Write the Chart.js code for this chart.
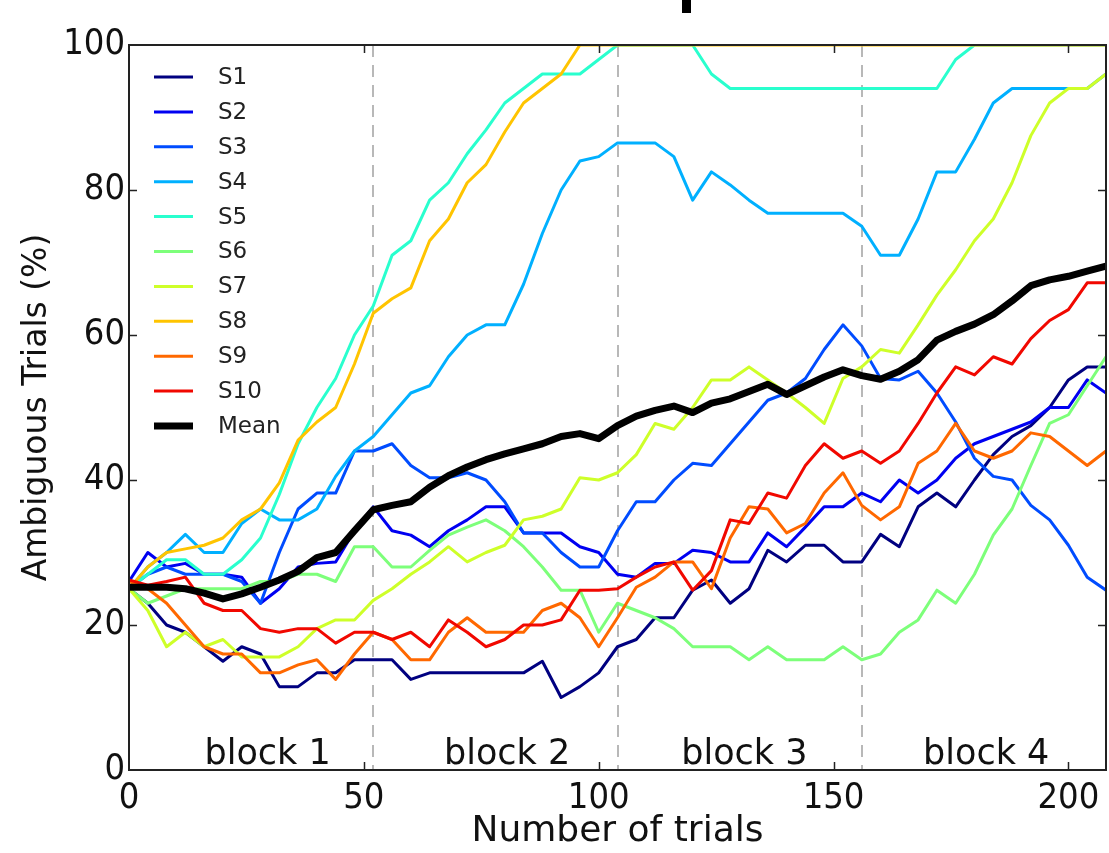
<!DOCTYPE html>
<html>
<head>
<meta charset="utf-8">
<script src="https://cdn.jsdelivr.net/npm/chart.js@4"></script>
<style>
html, body { margin: 0; padding: 0; background: #fff; }
#wrap { width: 1109px; height: 853px; }
</style>
</head>
<body>
<div id="wrap"><canvas id="myChart" width="1109" height="853"></canvas></div>
<script>
// ------------------------------------------------------------
// Data (every 4 trials)
// ------------------------------------------------------------
const trials = [0, 4, 8, 12, 16, 20, 24, 28, 32, 36, 40, 44, 48, 52, 56, 60, 64, 68, 72, 76,
    80, 84, 88, 92, 96, 100, 104, 108, 112, 116, 120, 124, 128, 132, 136, 140, 144, 148, 152, 156,
    160, 164, 168, 172, 176, 180, 184, 188, 192, 196, 200, 204, 208]

const s1 = [25, 23, 20, 19, 17, 15, 17, 16, 11.5, 11.5, 13.4, 13.4, 15.2, 15.2, 15.2, 12.5, 13.4, 13.4, 13.4, 13.4,
    13.4, 13.4, 15, 10, 11.5, 13.4, 17, 18, 21, 21, 24.8, 26.2, 23, 25, 30.3, 28.7, 31, 31, 28.7, 28.7,
    32.5, 30.8, 36.3, 38.2, 36.3, 40, 43.5, 46, 47.5, 50, 53.8, 55.6, 55.6]
const s2 = [26, 30, 28, 28.5, 27, 27, 26.6, 23, 25, 28, 28.5, 28.7, 33, 36.3, 33, 32.4, 30.8, 33, 34.5, 36.3,
    36.3, 32.7, 32.7, 32.7, 30.8, 30, 27, 26.6, 28.5, 28.5, 30.3, 30, 28.7, 28.7, 32.7, 30.8, 33.5, 36.3, 36.3, 38.2,
    37, 40, 38.2, 40, 43, 45, 46, 47, 48, 50, 50, 53.8, 52]
const s3 = [25, 27, 28, 27, 27, 27, 26, 23, 30, 36, 38.2, 38.2, 44, 44, 45, 42, 40.3, 40.3, 41, 40,
    37, 32.7, 32.7, 30, 28, 28, 33, 37, 37, 40, 42.3, 42, 45, 48, 51, 52, 54, 58, 61.4, 58.5,
    54, 53.8, 55, 52, 48, 43, 40.5, 40, 36.5, 34.5, 31, 26.6, 24.8]
const s4 = [25, 28, 30, 32.5, 30, 30, 34, 36, 34.5, 34.5, 36, 40.5, 44, 46, 49, 52, 53, 57, 60, 61.4,
    61.4, 67, 74, 80, 84, 84.6, 86.5, 86.5, 86.5, 84.6, 78.6, 82.5, 80.7, 78.6, 76.8, 76.8, 76.8, 76.8, 76.8, 75,
    71, 71, 76, 82.5, 82.5, 87, 92, 94, 94, 94, 94, 94, 96]
const s5 = [25, 27, 29, 29, 27, 27, 29, 32, 38, 45, 50, 54, 60, 64, 71, 73, 78.6, 81, 85, 88.3,
    92, 94, 96, 96, 96, 98, 100, 100, 100, 100, 100, 96, 94, 94, 94, 94, 94, 94, 94, 94,
    94, 94, 94, 94, 98, 100, 100, 100, 100, 100, 100, 100, 100]
const s6 = [25, 23, 24, 25, 25, 25, 25, 26, 26, 27, 27, 26, 30.8, 30.8, 28, 28, 30.3, 32.4, 33.5, 34.5,
    33, 30.8, 28, 24.8, 24.8, 19, 23, 22, 21, 19.5, 17, 17, 17, 15.2, 17, 15.2, 15.2, 15.2, 17, 15.2,
    16, 19, 20.7, 24.8, 23, 27, 32.4, 36, 42, 47.8, 49, 53, 57]
const s7 = [25, 22, 17, 19, 17, 18, 15.6, 15.6, 15.6, 17, 19.5, 20.7, 20.7, 23.4, 25, 27, 28.7, 30.8, 28.7, 30,
    31, 34.5, 35, 36, 40.3, 40, 41, 43.5, 47.8, 47, 50, 53.8, 53.8, 55.6, 53.8, 52, 50, 47.8, 54, 55.6,
    58, 57.5, 61.4, 65.5, 69, 73, 76, 81, 87.5, 92, 94, 94, 96]
const s8 = [25, 28, 30, 30.5, 31, 32, 34.5, 36, 39.6, 45.5, 48, 50, 56, 63, 65, 66.5, 73, 76, 81, 83.5,
    88, 92, 94, 96, 100, 100, 100, 100, 100, 100, 100, 100, 100, 100, 100, 100, 100, 100, 100, 100,
    100, 100, 100, 100, 100, 100, 100, 100, 100, 100, 100, 100, 100]
const s9 = [26, 25, 23, 20, 17, 16, 16, 13.4, 13.4, 14.5, 15.2, 12.5, 16, 19, 18, 15.2, 15.2, 19, 21, 19,
    19, 19, 22, 23, 21, 17, 21, 25.2, 26.6, 28.7, 28.7, 25, 32, 36.3, 36, 32.7, 34, 38.2, 41, 36.5,
    34.5, 36.3, 42.3, 44, 47.8, 44, 43, 44, 46.5, 46, 44, 42, 44]
const s10 = [26.2, 25.5, 26, 26.6, 23, 22, 22, 19.5, 19, 19.5, 19.5, 17.5, 19, 19, 18, 19, 17, 20.7, 19, 17,
    18, 20, 20, 20.7, 24.8, 24.8, 25, 26.6, 28, 28.7, 24.8, 27.5, 34.5, 34, 38.2, 37.5, 42, 45, 43, 44,
    42.3, 44, 47.8, 52, 55.6, 54.5, 57, 56, 59.5, 62, 63.5, 67.2, 67.2]
const mean = [25.2, 25.2, 25.2, 25, 24.4, 23.6, 24.3, 25.2, 26.2, 27.4, 29.3, 30, 33, 35.9, 36.5, 37, 39, 40.6, 41.8, 42.8,
    43.6, 44.3, 45, 46, 46.4, 45.7, 47.5, 48.8, 49.6, 50.2, 49.3, 50.6, 51.2, 52.2, 53.2, 51.8, 53, 54.2, 55.2, 54.4,
    53.9, 55, 56.6, 59.3, 60.5, 61.5, 62.8, 64.7, 66.8, 67.6, 68.1, 68.8, 69.5]

const seriesNames = ['S1', 'S2', 'S3', 'S4', 'S5', 'S6', 'S7', 'S8', 'S9', 'S10']
const seriesValues = [s1, s2, s3, s4, s5, s6, s7, s8, s9, s10]
const seriesColors = ['#000080', '#0000f1', '#004cff', '#00b0ff', '#29ffce',
    '#7dff7a', '#ceff29', '#ffc400', '#ff6800', '#f10800']

const xTickVals = [0, 50, 100, 150, 200]
const yTickVals = [0, 20, 40, 60, 80, 100]
const blockEdges = [52, 104, 156]
const blockNames = ['block 1', 'block 2', 'block 3', 'block 4']
const blockCenters = [29.5, 80.5, 131, 182.5]

// ------------------------------------------------------------
// Datasets
// ------------------------------------------------------------
const toPoints = (vals) => vals.map((v, i) => ({ x: trials[i], y: v }))

const datasets = seriesValues.map((vals, i) => ({
    label: seriesNames[i],
    data: toPoints(vals),
    borderColor: seriesColors[i],
    backgroundColor: seriesColors[i],
    borderWidth: 3,
    order: 10 - i,
}))
datasets.push({
    label: 'Mean',
    data: toPoints(mean),
    borderColor: '#000000',
    backgroundColor: '#000000',
    borderWidth: 7,
    order: -1,
})

// ------------------------------------------------------------
// Frame, inner ticks, block lines, block labels, legend
// ------------------------------------------------------------
const decor = {
    id: 'decor',
    beforeDatasetsDraw(chart) {
        const { ctx, chartArea: a, scales: { x } } = chart
        ctx.save()
        ctx.strokeStyle = '#b8b8b8'
        ctx.lineWidth = 2
        ctx.setLineDash([12, 8])
        blockEdges.forEach((t) => {
            const px = Math.round(x.getPixelForValue(t))
            ctx.beginPath()
            ctx.moveTo(px, a.top)
            ctx.lineTo(px, a.bottom)
            ctx.stroke()
        })
        ctx.restore()
    },
    afterDraw(chart) {
        const { ctx, chartArea: a, scales: { x, y } } = chart
        ctx.save()

        // frame
        ctx.strokeStyle = '#222'
        ctx.lineWidth = 2
        ctx.strokeRect(a.left, a.top, a.right - a.left, a.bottom - a.top)

        // inward ticks
        ctx.lineWidth = 1.5
        ctx.beginPath()
        xTickVals.slice(1).forEach((t) => {
            const px = Math.round(x.getPixelForValue(t)) + 0.5
            ctx.moveTo(px, a.bottom); ctx.lineTo(px, a.bottom - 8)
            ctx.moveTo(px, a.top); ctx.lineTo(px, a.top + 8)
        })
        yTickVals.slice(1, -1).forEach((v) => {
            const py = Math.round(y.getPixelForValue(v)) + 0.5
            ctx.moveTo(a.left, py); ctx.lineTo(a.left + 8, py)
            ctx.moveTo(a.right, py); ctx.lineTo(a.right - 8, py)
        })
        ctx.stroke()

        // block labels
        ctx.fillStyle = '#111'
        ctx.font = '35px "DejaVu Sans"'
        ctx.textAlign = 'center'
        ctx.textBaseline = 'alphabetic'
        blockNames.forEach((name, i) => {
            ctx.fillText(name, x.getPixelForValue(blockCenters[i]), y.getPixelForValue(0) - 6)
        })

        // legend
        ctx.font = '23px "DejaVu Sans"'
        ctx.textAlign = 'left'
        ctx.textBaseline = 'middle'
        chart.data.datasets.forEach((ds, i) => {
            const rowY = a.top + 32 + i * 34.9
            ctx.strokeStyle = ds.borderColor
            ctx.lineWidth = ds.label === 'Mean' ? 7 : 3
            ctx.beginPath()
            ctx.moveTo(a.left + 25, rowY)
            ctx.lineTo(a.left + 64, rowY)
            ctx.stroke()
            ctx.fillStyle = '#222'
            ctx.fillText(ds.label, a.left + 89, rowY + 1)
        })

        // sliver of the cropped title above the plot
        ctx.fillStyle = '#000'
        ctx.fillRect(682, 0, 9, 13)

        ctx.restore()
    }
}

const tickFont = { family: '"DejaVu Sans Condensed", "DejaVu Sans"', size: 36 }

const config = {
    type: 'line',
    data: { datasets },
    options: {
        responsive: false,
        animation: false,
        devicePixelRatio: 1,
        layout: { padding: { top: 45, right: 3, left: 0, bottom: 0 } },
        elements: {
            point: { radius: 0 },
            line: { tension: 0, borderJoinStyle: 'round' }
        },
        scales: {
            x: {
                type: 'linear',
                min: 0,
                max: 208,
                grid: { display: false, drawTicks: false },
                border: { display: false },
                afterBuildTicks: (scale) => { scale.ticks = xTickVals.map((v) => ({ value: v })) },
                afterFit: (scale) => { scale.height = 83 },
                ticks: { font: tickFont, color: '#111', padding: 7, maxRotation: 0, autoSkip: false },
                title: {
                    display: true,
                    text: 'Number of trials',
                    color: '#111',
                    font: { family: '"DejaVu Sans"', size: 36 },
                    padding: { top: 0, bottom: 0 }
                }
            },
            y: {
                min: 0,
                max: 100,
                grid: { display: false, drawTicks: false },
                border: { display: false },
                afterBuildTicks: (scale) => { scale.ticks = yTickVals.map((v) => ({ value: v })) },
                afterFit: (scale) => { scale.width = 129 },
                ticks: { font: tickFont, color: '#111', padding: 4 },
                title: {
                    display: true,
                    text: 'Ambiguous Trials (%)',
                    color: '#111',
                    font: { family: '"DejaVu Sans"', size: 33 },
                    padding: { top: 18, bottom: 0 }
                }
            }
        },
        plugins: {
            legend: { display: false },
            tooltip: { enabled: false }
        }
    },
    plugins: [decor]
}

const myChart = new Chart(document.getElementById('myChart'), config)
</script>
</body>
</html>
